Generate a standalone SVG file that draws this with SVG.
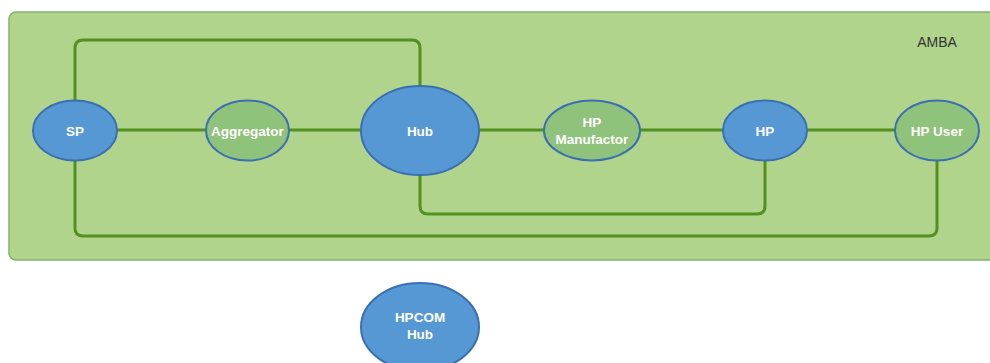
<svg xmlns="http://www.w3.org/2000/svg" width="990" height="363" viewBox="0 0 990 363">
  <style>
    .box { fill: #b1d48d; stroke: #82b366; stroke-width: 1.5; }
    .blue { fill: #5698d4; stroke: #3b6fb3; stroke-width: 2; }
    .green { fill: #8fc27a; stroke: #3b6fb3; stroke-width: 2; }
    .lbl { font-family: "Liberation Sans", Arial, sans-serif; font-size: 13.5px; font-weight: bold; fill: #ffffff; text-anchor: middle; }
    .title { font-family: "Liberation Sans", Arial, sans-serif; font-size: 14px; fill: #333333; text-anchor: middle; }
    .wire { fill: none; stroke: #52901f; stroke-width: 3; stroke-linejoin: round; }
  </style>
  <rect width="990" height="363" fill="#ffffff"/>

  <!-- AMBA container -->
  <g id="amba">
    <rect class="box" x="9" y="12" width="1000" height="248" rx="7"/>
    <text class="title" x="937" y="47">AMBA</text>
  </g>

  <!-- connectors -->
  <g id="connectors">
    <path class="wire" d="M117 130 H206"/>
    <path class="wire" d="M289 130 H361"/>
    <path class="wire" d="M479 130 H544"/>
    <path class="wire" d="M640 130 H723"/>
    <path class="wire" d="M807 130 H895"/>
    <path class="wire" d="M75 101 V48 Q75 40 83 40 H412 Q420 40 420 48 V86"/>
    <path class="wire" d="M420 175 V206 Q420 214 428 214 H757 Q765 214 765 206 V161"/>
    <path class="wire" d="M75 161 V228 Q75 236 83 236 H929 Q937 236 937 228 V161"/>
  </g>

  <g id="sp">
    <ellipse class="blue" cx="75" cy="130.5" rx="42" ry="30"/>
    <text class="lbl" x="75" y="135.5">SP</text>
  </g>
  <g id="aggregator">
    <ellipse class="green" cx="247.5" cy="130.5" rx="41.5" ry="30"/>
    <text class="lbl" x="247.5" y="135.5">Aggregator</text>
  </g>
  <g id="hub">
    <ellipse class="blue" cx="420" cy="130.5" rx="59" ry="44.5"/>
    <text class="lbl" x="420" y="135.5">Hub</text>
  </g>
  <g id="hp-manufactor">
    <ellipse class="green" cx="592" cy="130.5" rx="48" ry="30"/>
    <text class="lbl" x="592" y="127">HP</text>
    <text class="lbl" x="592" y="143.5">Manufactor</text>
  </g>
  <g id="hp">
    <ellipse class="blue" cx="765" cy="130.5" rx="42" ry="30"/>
    <text class="lbl" x="765" y="135.5">HP</text>
  </g>
  <g id="hp-user">
    <ellipse class="green" cx="937" cy="130.5" rx="42" ry="30"/>
    <text class="lbl" x="937" y="135.5">HP User</text>
  </g>
  <g id="hpcom-hub">
    <ellipse class="blue" cx="420" cy="327" rx="59" ry="44"/>
    <text class="lbl" x="420" y="322">HPCOM</text>
    <text class="lbl" x="420" y="338.5">Hub</text>
  </g>
</svg>
